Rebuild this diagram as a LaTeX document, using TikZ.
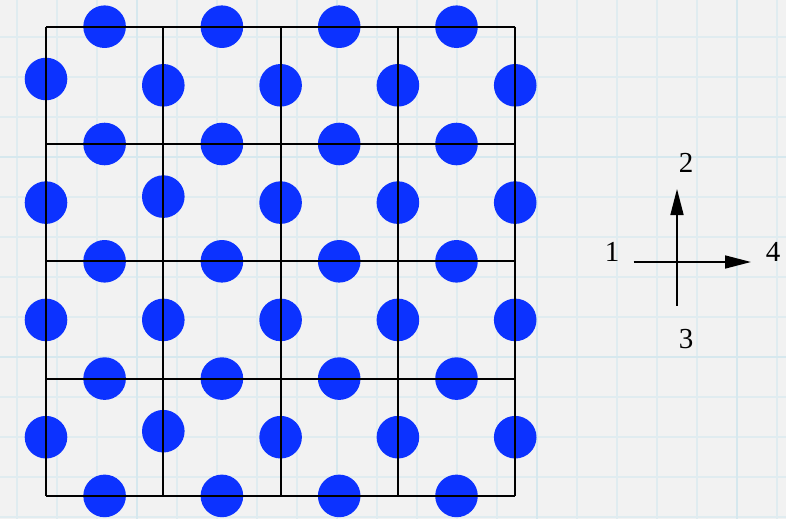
\documentclass[tikz,border=0pt]{standalone}
\usepackage{fontspec}
\setmainfont{Liberation Serif}
\usetikzlibrary{arrows.meta}
\definecolor{paper}{RGB}{242,242,242}
\definecolor{paperline}{RGB}{224,236,240}
\definecolor{paperlinemajor}{RGB}{214,232,238}
\definecolor{atomblue}{RGB}{12,50,255}
\tikzset{
  atom/.style={circle,fill=atomblue,draw=none,inner sep=0pt,minimum size=42.6pt},
  cellline/.style={black,line width=1.8pt},
  axisline/.style={black,line width=1.6pt},
  axisarrow/.style={axisline,-{Triangle[length=26pt,width=13pt]}},
  dirlabel/.style={inner sep=0pt,font=\fontsize{29}{30}\selectfont},
}
\begin{document}
\begin{tikzpicture}[x=1pt,y=-1pt]
  % paper background
  \fill[paper] (0,0) rectangle (786,519);
  \useasboundingbox (0,0) rectangle (786,519);
  \foreach \gx in {16.7,56.7,...,786} {\draw[paperline,line width=1.8pt] (\gx,0) -- (\gx,519);}
  \foreach \gy in {-3.3,36.7,...,519} {\draw[paperline,line width=1.8pt] (0,\gy) -- (786,\gy);}
  \foreach \gx in {136.7,336.7,536.7,736.7} {\draw[paperlinemajor,line width=2.2pt] (\gx,0) -- (\gx,519);}
  \foreach \gy in {156.7,356.7} {\draw[paperlinemajor,line width=2.2pt] (0,\gy) -- (786,\gy);}
  % atoms on horizontal cell edges
  \foreach \r in {0,...,4} {
    \foreach \c in {0,...,3} {
      \node[atom] (h-\r-\c) at ({104.6+117.3*\c},{26.7+117.3*\r}) {};
    }
  }
  % atoms on vertical cell edges
  \foreach \r in {0,...,3} {
    \foreach \c in {0,...,4} {
      \def\dy{0}
      \ifnum\r=0 \ifnum\c=0 \def\dy{-6.3}\fi\fi
      \ifnum\r=1 \ifnum\c=1 \def\dy{-6}\fi\fi
      \ifnum\r=3 \ifnum\c=1 \def\dy{-6}\fi\fi
      \node[atom] (v-\r-\c) at ({46+117.3*\c},{85.3+117.3*\r+\dy}) {};
    }
  }
  % unit-cell grid, drawn over the atoms
  \foreach \i in {0,...,4} {
    \draw[cellline] ({46+117.3*\i},26.7) -- ({46+117.3*\i},496);
    \draw[cellline] (46,{26.7+117.3*\i}) -- (515.2,{26.7+117.3*\i});
  }
  % direction key
  \coordinate (o) at (677,262);
  \coordinate (west) at (633.5,262);
  \coordinate (east) at (751,262);
  \coordinate (south) at (677,305.5);
  \coordinate (north) at (677,189);
  \draw[axisline] (west) -- (o);
  \draw[axisarrow] (o) -- (east);
  \draw[axisline] (south) -- (o);
  \draw[axisarrow] (o) -- (north);
  \node[dirlabel] (l1) at (612,252) {1};
  \node[dirlabel] (l2) at (686,163) {2};
  \node[dirlabel] (l3) at (686,339) {3};
  \node[dirlabel] (l4) at (773,252) {4};
\end{tikzpicture}
\end{document}
